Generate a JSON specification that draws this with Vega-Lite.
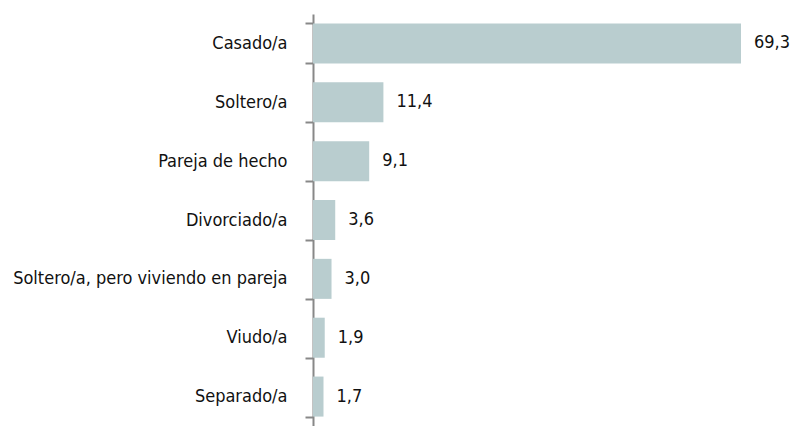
{
  "$schema": "https://vega.github.io/schema/vega-lite/v6.json",
  "autosize": {"type": "none"},
  "padding": {"left": 313, "top": 14, "right": 51, "bottom": 0},
  "width": 428,
  "height": 412,
  "background": "white",
  "config": {
    "view": {"stroke": null},
    "font": "DejaVu Sans Condensed",
    "locale": {"number": {"decimal": ",", "thousands": ".", "grouping": [3], "currency": ["", " €"]}}
  },
  "data": {
    "values": [
      {"estado": "Casado/a", "pct": 69.3},
      {"estado": "Soltero/a", "pct": 11.4},
      {"estado": "Pareja de hecho", "pct": 9.1},
      {"estado": "Divorciado/a", "pct": 3.6},
      {"estado": "Soltero/a, pero viviendo en pareja\u2002", "pct": 3.0},
      {"estado": "Viudo/a", "pct": 1.9},
      {"estado": "Separado/a", "pct": 1.7}
    ]
  },
  "encoding": {
    "y": {
      "field": "estado",
      "type": "nominal",
      "sort": null,
      "scale": {"paddingInner": 0.32, "paddingOuter": 0.16},
      "axis": {
        "title": null,
        "tickBand": "extent",
        "domainColor": "#888888",
        "domainWidth": 2,
        "tickColor": "#888888",
        "tickWidth": 2,
        "tickSize": 8,
        "labelFont": "DejaVu Sans Condensed",
        "labelFontSize": 18,
        "labelColor": "#111111",
        "labelPadding": 18,
        "labelLimit": 400
      }
    },
    "x": {
      "field": "pct",
      "type": "quantitative",
      "scale": {"domain": [0, 69.3], "nice": false, "zero": true},
      "axis": null
    }
  },
  "layer": [
    {"mark": {"type": "bar", "color": "#b9cdcf"}},
    {
      "mark": {"type": "text", "align": "left", "baseline": "middle", "dx": 13, "font": "DejaVu Sans Condensed", "fontSize": 18, "color": "#111111"},
      "encoding": {"text": {"field": "pct", "type": "quantitative", "format": ".1f"}}
    }
  ]
}
